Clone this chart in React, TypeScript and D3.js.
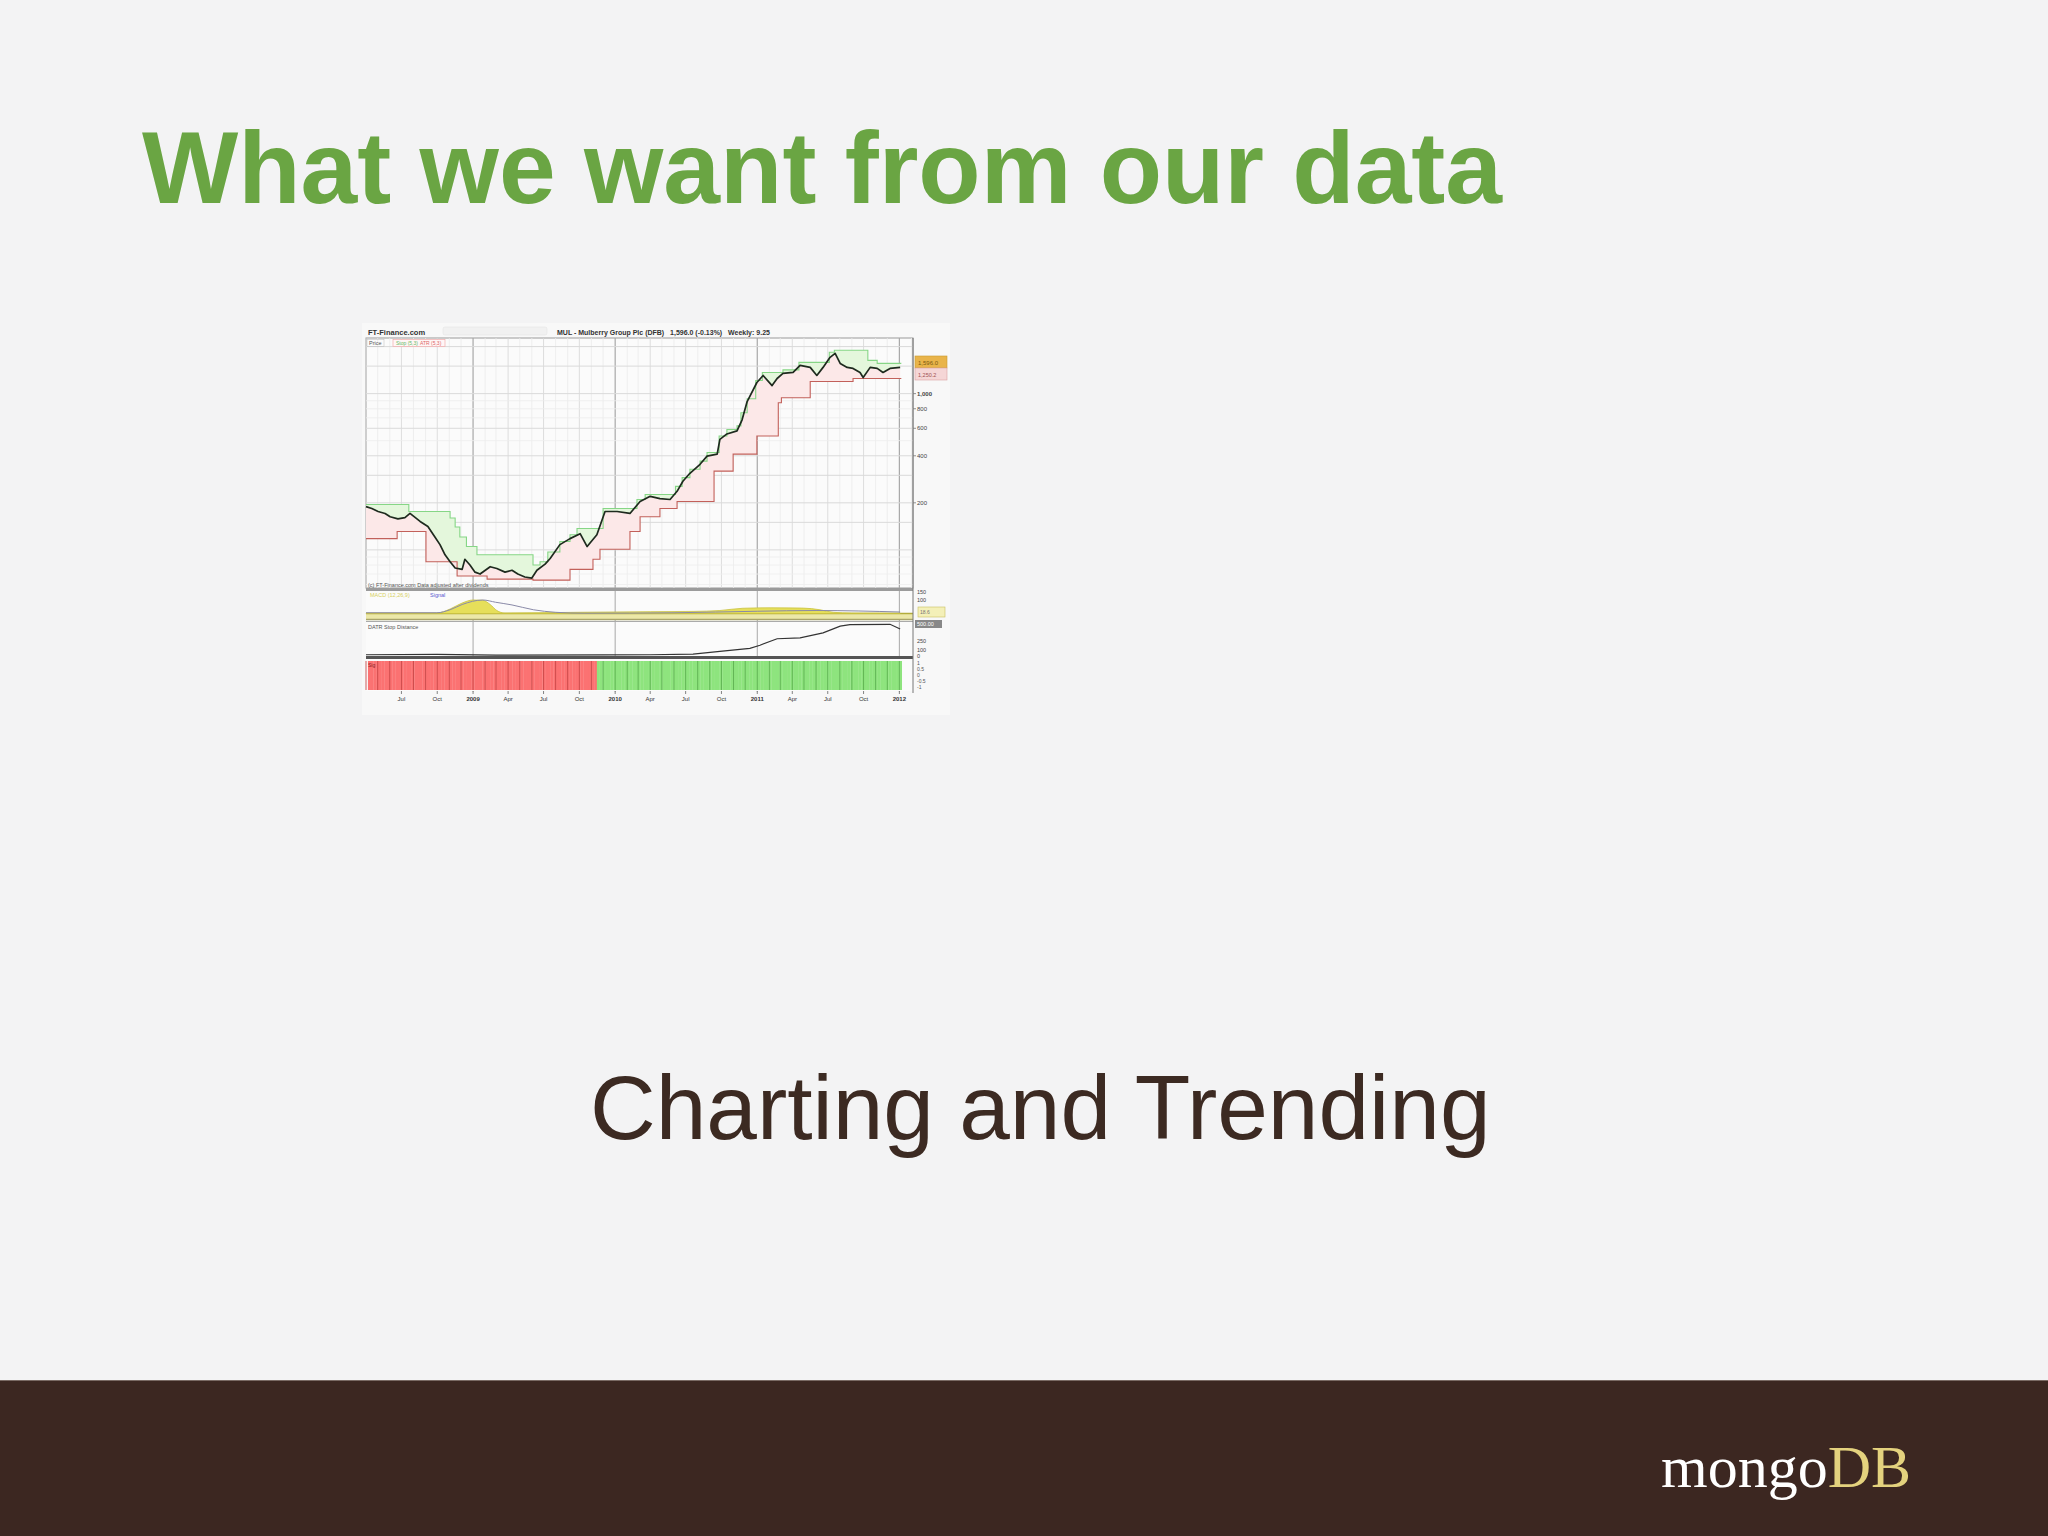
import React from "react";
import * as d3 from "d3";

type Pt = [string, number];

// ---- main price panel (weekly closes, pence) ----
const priceSeries: Pt[] = [
  ["2008-04-01", 189], ["2008-04-16", 184], ["2008-05-02", 176], ["2008-05-20", 171], ["2008-06-02", 163],
  ["2008-06-22", 158], ["2008-07-10", 161], ["2008-07-23", 171], ["2008-08-18", 152], ["2008-09-07", 141],
  ["2008-09-25", 121], ["2008-10-08", 108], ["2008-10-21", 93], ["2008-11-03", 84], ["2008-11-16", 76.5],
  ["2008-12-04", 75], ["2008-12-11", 87], ["2008-12-24", 80], ["2009-01-06", 72], ["2009-01-19", 70],
  ["2009-02-14", 78], ["2009-03-03", 76], ["2009-03-24", 72], ["2009-04-11", 74], ["2009-04-26", 70],
  ["2009-05-14", 67], ["2009-06-01", 66], ["2009-06-14", 74], ["2009-07-05", 81], ["2009-07-18", 88],
  ["2009-08-12", 108], ["2009-09-07", 118], ["2009-10-03", 127], ["2009-10-21", 105], ["2009-11-15", 125],
  ["2009-12-06", 176], ["2010-01-06", 176], ["2010-02-08", 171], ["2010-03-06", 204], ["2010-04-01", 220],
  ["2010-04-26", 213], ["2010-05-22", 210], ["2010-06-09", 237], ["2010-06-24", 275], ["2010-07-12", 309],
  ["2010-08-07", 353], ["2010-08-25", 398], ["2010-09-20", 410], ["2010-09-27", 510], ["2010-10-15", 552],
  ["2010-11-10", 577], ["2010-11-23", 680], ["2010-12-06", 890], ["2010-12-31", 1178], ["2011-01-16", 1307],
  ["2011-02-08", 1126], ["2011-02-21", 1250], ["2011-03-08", 1346], ["2011-04-03", 1366], ["2011-04-21", 1516],
  ["2011-05-17", 1472], ["2011-06-03", 1307], ["2011-06-19", 1472], ["2011-07-07", 1708], ["2011-07-20", 1811],
  ["2011-08-02", 1561], ["2011-08-20", 1472], ["2011-09-04", 1450], ["2011-09-22", 1366], ["2011-09-30", 1268],
  ["2011-10-18", 1472], ["2011-11-05", 1450], ["2011-11-20", 1366], ["2011-12-08", 1450], ["2012-01-03", 1472],
];

const upperStop: Pt[] = [
  ["2008-04-01", 195], ["2008-07-20", 176], ["2008-11-03", 160], ["2008-11-16", 140], ["2008-11-28", 121],
  ["2008-12-15", 105], ["2009-01-11", 93], ["2009-06-04", 80], ["2009-06-22", 84], ["2009-07-12", 97],
  ["2009-08-12", 113], ["2009-09-07", 125], ["2009-09-25", 137], ["2009-12-01", 184], ["2010-02-26", 210],
  ["2010-03-19", 226], ["2010-06-05", 255], ["2010-06-22", 290], ["2010-07-12", 328], ["2010-08-07", 370],
  ["2010-08-25", 420], ["2010-09-25", 536], ["2010-10-15", 590], ["2010-11-10", 622], ["2010-11-20", 754],
  ["2010-12-06", 928], ["2010-12-28", 1213], ["2011-01-14", 1366], ["2011-03-08", 1420], ["2011-04-18", 1585],
  ["2011-07-05", 1838], ["2011-07-18", 1894], ["2011-10-12", 1633], ["2011-11-05", 1561], ["2012-01-06", 1561],
];

const lowerStop: Pt[] = [
  ["2008-04-01", 118], ["2008-06-20", 131], ["2008-09-02", 84], ["2008-11-21", 68], ["2009-02-06", 65],
  ["2009-06-04", 64], ["2009-09-07", 75], ["2009-11-05", 87], ["2009-11-23", 101], ["2010-02-08", 131],
  ["2010-03-06", 163], ["2010-04-26", 184], ["2010-06-09", 204], ["2010-09-12", 319], ["2010-10-31", 410],
  ["2010-12-31", 536], ["2011-02-24", 875], ["2011-03-04", 942], ["2011-05-17", 1195], ["2011-09-04", 1250],
  ["2012-01-06", 1250],
];

// ---- oscillator panel ----
const oscArea: Pt[] = [
  ["2008-04-01", 2], ["2008-09-30", 3], ["2008-11-03", 30], ["2008-12-04", 70], ["2009-01-01", 90],
  ["2009-01-26", 88], ["2009-02-14", 60], ["2009-03-03", 20], ["2009-03-24", 3], ["2009-09-25", 8],
  ["2010-04-01", 12], ["2010-07-20", 14], ["2010-09-27", 20], ["2010-11-25", 35], ["2011-02-03", 38],
  ["2011-04-29", 36], ["2011-06-11", 25], ["2011-07-15", 8], ["2011-09-01", 3], ["2012-01-03", 2],
];
const oscLine: Pt[] = [
  ["2008-04-01", 5], ["2008-09-30", 5], ["2008-11-03", 25], ["2008-12-04", 60], ["2009-01-26", 90],
  ["2009-02-28", 75], ["2009-04-11", 57], ["2009-06-05", 25], ["2009-08-01", 8], ["2009-10-15", 2],
  ["2010-06-01", 5], ["2011-01-01", 15], ["2011-06-01", 20], ["2012-01-03", 10],
];

// ---- DATR stop distance panel ----
const stopDistance: Pt[] = [
  ["2008-04-01", 20], ["2008-10-01", 25], ["2009-03-01", 15], ["2009-12-01", 18], ["2010-04-01", 20],
  ["2010-07-20", 30], ["2010-09-27", 75], ["2010-12-13", 125], ["2011-01-08", 175], ["2011-02-21", 280],
  ["2011-04-21", 295], ["2011-06-19", 375], ["2011-08-02", 485], ["2011-08-27", 510], ["2011-12-08", 515],
  ["2012-01-03", 440],
];

// ---- signal panel ----
const signalPeriods: { start: string; end: string; signal: number }[] = [
  { start: "2008-04-01", end: "2009-11-15", signal: -1 },
  { start: "2009-11-15", end: "2012-01-07", signal: 1 },
];

const quarterTicks: [string, string][] = [
  ["2008-07-01", "Jul"], ["2008-10-01", "Oct"], ["2009-01-01", "2009"], ["2009-04-01", "Apr"],
  ["2009-07-01", "Jul"], ["2009-10-01", "Oct"], ["2010-01-01", "2010"], ["2010-04-01", "Apr"],
  ["2010-07-01", "Jul"], ["2010-10-01", "Oct"], ["2011-01-01", "2011"], ["2011-04-01", "Apr"],
  ["2011-07-01", "Jul"], ["2011-10-01", "Oct"], ["2012-01-01", "2012"],
];
const priceAxisTicks: number[] = [1000, 800, 600, 400, 200];
const priceGridMajor: number[] = [100, 150, 200, 300, 400, 600, 1000, 1500, 2000];
const priceGridMinor: number[] = [60, 70, 80, 90, 500, 700, 800, 900];

const parse = d3.timeParse("%Y-%m-%d");
const toDated = (s: Pt[]) => s.map(([d, v]) => ({ t: parse(d) as Date, v }));

export default function App() {
  const W = 2048, H = 1536;
  const L = 366, R = 913;
  const FONT = "Liberation Sans, Arial, sans-serif";
  const start = parse("2008-04-01") as Date;
  const end = parse("2012-02-05") as Date;
  const x = d3.scaleTime().domain([start, end]).range([L, R]);
  const yP = d3.scaleLog().domain([57, 2270]).range([588, 338]);
  const y2 = d3.scaleLinear().domain([-50, 150]).range([621, 591]);
  const y3 = d3.scaleLinear().domain([0, 520]).range([656, 624]);

  const price = toDated(priceSeries);
  const upper = toDated(upperStop);
  const lower = toDated(lowerStop);
  const bis = d3.bisector((d: { t: Date }) => d.t).right;

  const priceAt = (t: Date) => {
    const i = bis(price, t);
    if (i <= 0) return price[0].v;
    if (i >= price.length) return price[price.length - 1].v;
    const a = price[i - 1], b = price[i];
    const f = (+t - +a.t) / (+b.t - +a.t);
    return a.v + (b.v - a.v) * f;
  };
  const stepAt = (s: { t: Date; v: number }[], t: Date) => {
    const i = bis(s, t);
    return s[Math.max(0, i - 1)].v;
  };

  const lastT = price[price.length - 1].t;
  const sampleSet = new Map<number, Date>();
  const addT = (t: Date) => {
    if (+t >= +start && +t <= +lastT) sampleSet.set(+t, t);
  };
  d3.timeDay.every(2)!.range(start, lastT).forEach(addT);
  price.forEach((p) => addT(p.t));
  [...upper, ...lower].forEach((p) => {
    addT(p.t);
    addT(new Date(+p.t - 3600 * 1000));
  });
  addT(lastT);
  const samples = Array.from(sampleSet.values()).sort((a, b) => +a - +b);

  const bandUpper = d3.area<Date>().x((t) => x(t)).y0((t) => yP(priceAt(t))).y1((t) => yP(stepAt(upper, t)));
  const bandLower = d3.area<Date>().x((t) => x(t)).y0((t) => yP(priceAt(t))).y1((t) => yP(stepAt(lower, t)));
  const stepLine = d3.line<{ t: Date; v: number }>().x((d) => x(d.t)).y((d) => yP(d.v)).curve(d3.curveStepAfter);
  const priceLine = d3.line<{ t: Date; v: number }>().x((d) => x(d.t)).y((d) => yP(d.v));

  const osc = toDated(oscArea);
  const oscL = toDated(oscLine);
  const oscAreaPath = d3.area<{ t: Date; v: number }>().x((d) => x(d.t)).y0(y2(0)).y1((d) => y2(d.v)).curve(d3.curveMonotoneX);
  const oscLinePath = d3.line<{ t: Date; v: number }>().x((d) => x(d.t)).y((d) => y2(d.v)).curve(d3.curveMonotoneX);

  const dist = toDated(stopDistance);
  const distPath = d3.line<{ t: Date; v: number }>().x((d) => x(d.t)).y((d) => y3(d.v));

  const months = d3.timeMonth.range(start, end);
  const weeksBars = signalPeriods.flatMap((p) =>
    d3.timeWeek.range(parse(p.start) as Date, parse(p.end) as Date).map((t) => ({ t, s: p.signal, e: parse(p.end) as Date }))
  );
  const sigEnd = parse(signalPeriods[signalPeriods.length - 1].end) as Date;
  const sigSwitch = parse(signalPeriods[0].end) as Date;

  const fmt = d3.format(",");

  return (
    <svg width={W} height={H} style={{ position: "absolute", left: 0, top: 0 }} xmlns="http://www.w3.org/2000/svg">
      <rect x={0} y={0} width={W} height={H} fill="#f3f3f4" />
      <text x={142} y={203} fontFamily={FONT} fontWeight="bold" fontSize={102} fill="#6aa543">
        What we want from our data
      </text>

      {/* chart image */}
      <rect x={362} y={323} width={588} height={392} fill="#f8f8f8" />
      {/* header */}
      <text x={368} y={335} fontFamily={FONT} fontWeight="bold" fontSize={7.5} fill="#333">FT-Finance.com</text>
      <rect x={443} y={327} width={104} height={8} rx={2} fill="#f1f1f1" stroke="#e4e4e4" strokeWidth={0.6} />
      <text x={557} y={335} fontFamily={FONT} fontWeight="bold" fontSize={7} fill="#333" xmlSpace="preserve">
        MUL - Mulberry Group Plc (DFB)   1,596.0 (-0.13%)   Weekly: 9.25
      </text>

      {/* main panel */}
      <rect x={L} y={338} width={R - L} height={250} fill="#fbfbfb" stroke="#999" strokeWidth={1} />
      {months.map((m, i) => {
        const q = m.getMonth() % 3 === 0;
        const yr = m.getMonth() === 0;
        return (
          <line key={"mg" + i} x1={x(m)} x2={x(m)} y1={338} y2={588}
            stroke={yr ? "#a8a8a8" : q ? "#d6d6d6" : "#ebebeb"} strokeWidth={yr ? 1.2 : 0.8} />
        );
      })}
      {priceGridMinor.map((v) => (
        <line key={"gm" + v} x1={L} x2={R} y1={yP(v)} y2={yP(v)} stroke="#eeeeee" strokeWidth={0.8} />
      ))}
      {priceGridMajor.map((v) => (
        <line key={"gM" + v} x1={L} x2={R} y1={yP(v)} y2={yP(v)} stroke="#dadada" strokeWidth={1} />
      ))}
      <text x={369} y={345} fontFamily={FONT} fontSize={5.5} fill="#555">Price</text>
      <rect x={367} y={339.5} width={17} height={7} fill="none" stroke="#bbb" strokeWidth={0.5} />
      <rect x={393} y={339.5} width={52} height={7} fill="#fff6f6" stroke="#f0a0a0" strokeWidth={0.6} />
      <text x={396} y={345} fontFamily={FONT} fontSize={5} fill="#66bb66">Stop (5,3)</text>
      <text x={420} y={345} fontFamily={FONT} fontSize={5} fill="#dd6666">ATR (5,3)</text>

      <path d={bandUpper(samples) || ""} fill="#e4f7dc" />
      <path d={bandLower(samples) || ""} fill="#fce8e8" />
      <path d={stepLine(upper) || ""} fill="none" stroke="#86d686" strokeWidth={1.1} />
      <path d={stepLine(lower) || ""} fill="none" stroke="#c2605a" strokeWidth={1.1} />
      <path d={priceLine(price) || ""} fill="none" stroke="#1e2a1e" strokeWidth={1.7} strokeLinejoin="round" />

      <text x={368} y={587} fontFamily={FONT} fontSize={5.5} fill="#555">(c) FT-Finance.com  Data adjusted after dividends</text>

      {/* oscillator panel */}
      <rect x={L} y={588} width={R - L} height={3} fill="#9b9b9b" />
      <rect x={L} y={591} width={R - L} height={30} fill="#fbfbfb" />
      {months.filter((m) => m.getMonth() === 0).map((m, i) => (
        <line key={"p2y" + i} x1={x(m)} x2={x(m)} y1={591} y2={692} stroke="#a8a8a8" strokeWidth={1} />
      ))}
      <rect x={L} y={y2(0)} width={R - L} height={y2(-40) - y2(0)} fill="#ece8a8" />
      <line x1={L} x2={R} y1={y2(0)} y2={y2(0)} stroke="#b2ac3c" strokeWidth={1.6} />
      <line x1={L} x2={R} y1={y2(-40)} y2={y2(-40)} stroke="#a9a46a" strokeWidth={1.4} />
      <path d={oscAreaPath(osc) || ""} fill="#e6df5a" stroke="#c9c140" strokeWidth={0.8} />
      <path d={oscLinePath(oscL) || ""} fill="none" stroke="#8a8aa8" strokeWidth={1} />
      <text x={370} y={597} fontFamily={FONT} fontSize={5.5} fill="#d6d060">MACD (12,26,9)</text>
      <text x={430} y={597} fontFamily={FONT} fontSize={5.5} fill="#5a5ad0">Signal</text>

      {/* stop distance panel */}
      <line x1={L} x2={R} y1={621.5} y2={621.5} stroke="#aaa" strokeWidth={1} />
      <rect x={L} y={622} width={R - L} height={34} fill="#fbfbfb" />
      {months.filter((m) => m.getMonth() === 0).map((m, i) => (
        <line key={"p3y" + i} x1={x(m)} x2={x(m)} y1={622} y2={656} stroke="#a8a8a8" strokeWidth={1} />
      ))}
      <text x={368} y={629} fontFamily={FONT} fontSize={5.5} fill="#555">DATR Stop Distance</text>
      <path d={distPath(dist) || ""} fill="none" stroke="#333" strokeWidth={1.2} />
      <rect x={L} y={656} width={R - L} height={3} fill="#555" />

      {/* signal panel */}
      <rect x={L} y={659} width={R - L} height={32} fill="#fbfbfb" />
      {weeksBars.map((b, i) => {
        const x0 = x(b.t);
        const nxt = d3.timeWeek.offset(b.t, 1);
        const x1 = x(+nxt > +b.e ? b.e : nxt);
        return (
          <rect key={"sb" + i} x={x0} y={661} width={Math.max(0, x1 - x0 + 0.3)} height={29}
            fill={b.s < 0 ? "#fb7272" : "#8ee47e"} />
        );
      })}
      {months.filter((m) => +m < +sigEnd).map((m, i) => (
        <line key={"sep" + i} x1={x(m)} x2={x(m)} y1={661} y2={690}
          stroke={+m < +sigSwitch ? "#c84848" : "#5cb050"} strokeWidth={0.9} />
      ))}
      <text x={368} y={667} fontFamily={FONT} fontSize={5} fill="#8a2020">Sig</text>

      {/* right axis */}
      <line x1={R} x2={R} y1={338} y2={693} stroke="#777" strokeWidth={1} />
      {priceAxisTicks.map((v) => (
        <g key={"pt" + v}>
          <line x1={R} x2={R + 3} y1={yP(v)} y2={yP(v)} stroke="#777" strokeWidth={0.8} />
          <text x={R + 4} y={yP(v) + 2} fontFamily={FONT} fontSize={6} fontWeight={v === 1000 ? "bold" : "normal"} fill="#444">
            {fmt(v)}
          </text>
        </g>
      ))}
      <rect x={915} y={356} width={32} height={12} fill="#e9b44a" stroke="#c89a30" strokeWidth={0.6} />
      <text x={918} y={364.5} fontFamily={FONT} fontSize={6} fill="#7a5a10">1,596.0</text>
      <rect x={915} y={368} width={32} height={12} fill="#f5d6d6" stroke="#dba0a0" strokeWidth={0.6} />
      <text x={918} y={376.5} fontFamily={FONT} fontSize={5.5} fill="#a05050">1,250.2</text>

      {[150, 100].map((v) => (
        <text key={"o" + v} x={R + 4} y={y2(v) + 3} fontFamily={FONT} fontSize={5.5} fill="#444">{v}</text>
      ))}
      <rect x={918} y={607} width={27} height={10} fill="#f4f0b8" stroke="#c8c060" strokeWidth={0.6} />
      <text x={920} y={614} fontFamily={FONT} fontSize={5} fill="#777">18.6</text>

      <rect x={915} y={620} width={27} height={8} fill="#888" />
      <text x={917} y={626} fontFamily={FONT} fontSize={5.5} fill="#fff">500.00</text>
      {[250, 100, 0].map((v) => (
        <text key={"d" + v} x={R + 4} y={y3(v) + 2} fontFamily={FONT} fontSize={5.5} fill="#444">{v}</text>
      ))}
      {["1", "0.5", "0", "-0.5", "-1"].map((s, i) => (
        <text key={"s" + i} x={R + 4} y={665 + i * 6} fontFamily={FONT} fontSize={5} fill="#555">{s}</text>
      ))}

      {/* x axis */}
      {quarterTicks.map(([d, lab]) => {
        const t = parse(d) as Date;
        const isYear = t.getMonth() === 0;
        return (
          <g key={"xt" + d}>
            <line x1={x(t)} x2={x(t)} y1={691} y2={694} stroke="#666" strokeWidth={0.8} />
            <text x={x(t)} y={701} textAnchor="middle" fontFamily={FONT} fontSize={6}
              fontWeight={isYear ? "bold" : "normal"} fill="#333">{lab}</text>
          </g>
        );
      })}

      <text x={590} y={1139} fontFamily={FONT} fontSize={91} fill="#3c2a22">Charting and Trending</text>

      <rect x={0} y={1380} width={W} height={H - 1380} fill="#3c2721" />
      <line x1={0} x2={W} y1={1380.5} y2={1380.5} stroke="#7a6a64" strokeWidth={1} />
      <text x={1661} y={1487} fontFamily="Liberation Serif, Times New Roman, serif" fontSize={60}>
        <tspan fill="#ffffff">mongo</tspan>
        <tspan fill="#e4d27e">DB</tspan>
      </text>
    </svg>
  );
}
